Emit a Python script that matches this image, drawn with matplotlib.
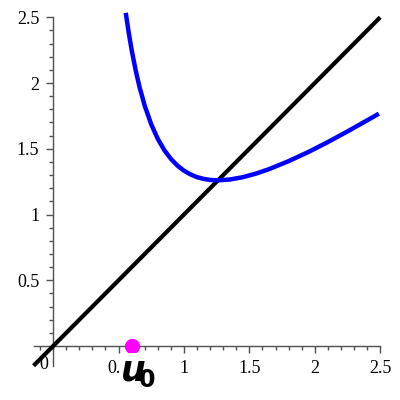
import matplotlib
matplotlib.use("Agg")
import matplotlib.pyplot as plt
from matplotlib.ticker import FixedLocator

# blue curve
curve_x = [0.555, 0.56, 0.58, 0.60, 0.63, 0.66, 0.70, 0.75, 0.80, 0.85, 0.90, 0.95,
           1.00, 1.05, 1.10, 1.15, 1.20, 1.26, 1.35, 1.45, 1.55, 1.65, 1.80, 1.95,
           2.10, 2.25, 2.40, 2.49]
curve_y = [2.534, 2.499, 2.368, 2.252, 2.100, 1.970, 1.827, 1.685, 1.575, 1.489, 1.423, 1.372,
           1.333, 1.305, 1.284, 1.271, 1.263, 1.260, 1.266, 1.284, 1.311, 1.345, 1.406, 1.475,
           1.551, 1.632, 1.716, 1.767]

# black line y = x
line_x = [-0.15, 2.5]
line_y = [-0.15, 2.5]

# starting point
u0_x = [0.6]
u0_y = [0.0]

x_ticks = [0.5, 1, 1.5, 2, 2.5]
x_labels = ["0.5", "1", "1.5", "2", "2.5"]
y_ticks = [0.5, 1, 1.5, 2, 2.5]
y_labels = ["0.5", "1", "1.5", "2", "2.5"]

fig = plt.figure(figsize=(4, 4), dpi=100)
ax = fig.add_axes([0.0675, 0.0692, 0.9157, 0.9205])
ax.set_xlim(-0.2, 2.6)
ax.set_ylim(-0.2, 2.6)

ax.plot(line_x, line_y, color="black", lw=3.0, solid_capstyle="butt", zorder=3)
ax.plot(curve_x, curve_y, color="#0000ff", lw=3.2, solid_capstyle="butt", zorder=4)
ax.plot(u0_x, u0_y, "o", color="#ff00ff", ms=11, mec="none", zorder=5, clip_on=False)

axis_col = "#505050"
for s in ["top", "right"]:
    ax.spines[s].set_visible(False)
ax.spines["left"].set_position(("data", 0))
ax.spines["bottom"].set_position(("data", 0))
ax.spines["left"].set_bounds(-0.15, 2.5)
ax.spines["bottom"].set_bounds(-0.15, 2.5)
for s in ["left", "bottom"]:
    ax.spines[s].set_color(axis_col)
    ax.spines[s].set_linewidth(1.0)

ax.xaxis.set_major_locator(FixedLocator(x_ticks))
ax.yaxis.set_major_locator(FixedLocator(y_ticks))
ax.set_xticklabels(x_labels)
ax.set_yticklabels(y_labels)
ax.xaxis.set_minor_locator(FixedLocator([i / 10 for i in range(-1, 26)]))
ax.yaxis.set_minor_locator(FixedLocator([i / 10 for i in range(0, 26)]))
ax.tick_params(which="major", direction="out", length=5, width=1, color=axis_col,
               labelsize=13, pad=5)
ax.tick_params(which="minor", direction="out", length=3, width=1, color=axis_col)
for lab in ax.get_xticklabels() + ax.get_yticklabels():
    lab.set_family("Liberation Serif")

ax.text(-0.07, -0.075, "0", family="Liberation Serif", fontsize=13,
        ha="center", va="top")

# u_0 label, drawn over the 0.5 tick label like in the original
ax.text(0.615, -0.26, "u", family="DejaVu Sans", fontsize=25, fontweight="bold",
        style="italic", ha="center", va="baseline", clip_on=False, zorder=6,
        bbox=dict(boxstyle="square,pad=0.02", fc="white", ec="none"))
ax.text(0.72, -0.31, "0", family="DejaVu Sans", fontsize=17, fontweight="bold",
        ha="center", va="baseline", clip_on=False, zorder=6)

fig.savefig("out.png", dpi=100)
